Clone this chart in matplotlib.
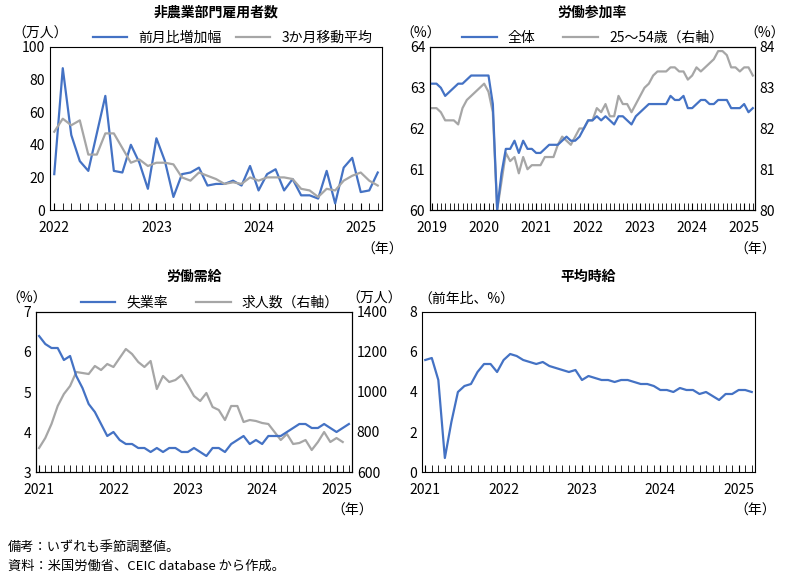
import numpy as np
import matplotlib
matplotlib.use("Agg")
import matplotlib.pyplot as plt

plt.rcParams["font.family"] = "Noto Sans CJK JP"
BLUE, GRAY = "#4472C4", "#A6A6A6"

# panel 1: 2022-01 .. 2025-03
nfp_chg = [22, 87, 46, 30, 24, 47, 70, 24, 23, 40, 29, 13, 44, 30, 8, 22, 23, 26, 15, 16,
           16, 18, 15, 27, 12, 22, 25, 12, 19, 9, 9, 7, 24, 4, 26, 32, 11, 12, 23]
nfp_ma3 = [48, 56, 52, 55, 34, 34, 47, 47, 38, 29, 31, 27, 29, 29, 28, 20, 18, 23, 21, 19,
           16, 17, 16, 20, 18, 20, 20, 20, 19, 13, 12, 8, 13, 12, 18, 21, 23, 18, 15]
# panel 2: 2019-01 .. 2025-03
lfpr_all = [63.1, 63.1, 63.0, 62.8, 62.9, 63.0, 63.1, 63.1, 63.2, 63.3, 63.3, 63.3,
            63.3, 63.3, 62.6, 60.0, 60.9, 61.5, 61.5, 61.7, 61.4, 61.7, 61.5, 61.5,
            61.4, 61.4, 61.5, 61.6, 61.6, 61.6, 61.7, 61.8, 61.7, 61.7, 61.8, 62.0,
            62.2, 62.2, 62.3, 62.2, 62.3, 62.2, 62.1, 62.3, 62.3, 62.2, 62.1, 62.3,
            62.4, 62.5, 62.6, 62.6, 62.6, 62.6, 62.6, 62.8, 62.7, 62.7, 62.8, 62.5,
            62.5, 62.6, 62.7, 62.7, 62.6, 62.6, 62.7, 62.7, 62.7, 62.5, 62.5, 62.5,
            62.6, 62.4, 62.5]
lfpr_prime = [82.5, 82.5, 82.4, 82.2, 82.2, 82.2, 82.1, 82.5, 82.7, 82.8, 82.9, 83.0,
              83.1, 82.9, 82.4, 80.0, 80.7, 81.4, 81.2, 81.3, 80.9, 81.3, 81.0, 81.1,
              81.1, 81.1, 81.3, 81.3, 81.3, 81.6, 81.8, 81.7, 81.6, 81.8, 82.0, 82.0,
              82.2, 82.2, 82.5, 82.4, 82.6, 82.3, 82.3, 82.8, 82.6, 82.6, 82.4, 82.6,
              82.8, 83.0, 83.1, 83.3, 83.4, 83.4, 83.4, 83.5, 83.5, 83.4, 83.4, 83.2,
              83.3, 83.5, 83.4, 83.5, 83.6, 83.7, 83.9, 83.9, 83.8, 83.5, 83.5, 83.4,
              83.5, 83.5, 83.3]
# panel 3: 2021-01 .. 2025-03
unemp = [6.4, 6.2, 6.1, 6.1, 5.8, 5.9, 5.4, 5.1, 4.7, 4.5, 4.2, 3.9,
         4.0, 3.8, 3.7, 3.7, 3.6, 3.6, 3.5, 3.6, 3.5, 3.6, 3.6, 3.5,
         3.5, 3.6, 3.5, 3.4, 3.6, 3.6, 3.5, 3.7, 3.8, 3.9, 3.7, 3.8,
         3.7, 3.9, 3.9, 3.9, 4.0, 4.1, 4.2, 4.2, 4.1, 4.1, 4.2, 4.1,
         4.0, 4.1, 4.2]
openings = [720, 770, 840, 930, 990, 1030, 1100, 1095, 1090, 1130, 1110, 1140,
            1125, 1170, 1215, 1190, 1150, 1125, 1155, 1015, 1080, 1050, 1060, 1085,
            1035, 980, 955, 995, 925, 910, 860, 930, 930, 850, 860, 855,
            845, 840, 800, 760, 790, 740, 745, 760, 710, 750, 800, 750,
            770, 750]
# panel 4: 2021-01 .. 2025-03
wages = [5.6, 5.7, 4.6, 0.7, 2.5, 4.0, 4.3, 4.4, 5.0, 5.4, 5.4, 5.0,
         5.6, 5.9, 5.8, 5.6, 5.5, 5.4, 5.5, 5.3, 5.2, 5.1, 5.0, 5.1,
         4.6, 4.8, 4.7, 4.6, 4.6, 4.5, 4.6, 4.6, 4.5, 4.4, 4.4, 4.3,
         4.1, 4.1, 4.0, 4.2, 4.1, 4.1, 3.9, 4.0, 3.8, 3.6, 3.9, 3.9,
         4.1, 4.1, 4.0]


def style(ax, start, n, ylim, yticks, ylab, title, lab_x=-0.03, lab_ha="center"):
    ax.set_xlim(-0.5, n - 0.5)
    ax.set_ylim(*ylim)
    ax.set_yticks(yticks)
    years = list(range(0, n, 12))
    ax.set_xticks(years)
    ax.set_xticklabels([str(start + i // 12) for i in years])
    ax.set_xticks(range(n), minor=True)
    ax.tick_params(axis="x", which="both", direction="in", length=5, pad=8)
    ax.tick_params(axis="y", length=0, labelsize=10)
    ax.tick_params(axis="x", labelsize=10)
    for s in ax.spines.values():
        s.set_color("black")
    ax.set_title(title, fontsize=10, fontweight="bold", pad=22)
    ax.text(lab_x, 1.04, ylab, transform=ax.transAxes, ha=lab_ha, va="bottom", fontsize=10)
    ax.text(1.0, -0.2, "（年）", transform=ax.transAxes, ha="center", va="top", fontsize=10)


fig = plt.figure(figsize=(7.93, 5.78), dpi=100)

ax1 = fig.add_axes([50 / 793, 1 - 210 / 578, 332 / 793, 163 / 578])
ax1.plot(nfp_chg, color=BLUE, lw=1.6, label="前月比増加幅")
ax1.plot(nfp_ma3, color=GRAY, lw=1.6, label="3か月移動平均")
style(ax1, 2022, 39, (0, 100), range(0, 101, 20), "（万人）", "非農業部門雇用者数")
ax1.legend(loc="lower center", bbox_to_anchor=(0.55, 0.98), ncol=2, frameon=False,
           fontsize=10, handlelength=2.5, columnspacing=1, borderaxespad=0)

ax2 = fig.add_axes([430 / 793, 1 - 210 / 578, 325 / 793, 163 / 578])
ax2b = ax2.twinx()
l1, = ax2.plot(lfpr_all, color=BLUE, lw=1.6, label="全体")
l2, = ax2b.plot(lfpr_prime, color=GRAY, lw=1.6, label="25～54歳（右軸）")
ax2.set_zorder(ax2b.get_zorder() + 1); ax2.patch.set_visible(False)
style(ax2, 2019, 75, (60, 64), range(60, 65), "（%）", "労働参加率")
ax2b.set_ylim(80, 84); ax2b.set_yticks(range(80, 85))
ax2b.tick_params(length=0, labelsize=10)
ax2b.text(1.03, 1.04, "（%）", transform=ax2b.transAxes, ha="center", va="bottom", fontsize=10)
ax2.legend([l1, l2], ["全体", "25～54歳（右軸）"], loc="lower center", bbox_to_anchor=(0.5, 0.98),
           ncol=2, frameon=False, fontsize=10, handlelength=2.5, columnspacing=2, borderaxespad=0)

ax3 = fig.add_axes([36 / 793, 1 - 472 / 578, 316 / 793, 160 / 578])
ax3b = ax3.twinx()
l3, = ax3.plot(unemp, color=BLUE, lw=1.6)
l4, = ax3b.plot(openings, color=GRAY, lw=1.6)
ax3.set_zorder(ax3b.get_zorder() + 1); ax3.patch.set_visible(False)
style(ax3, 2021, 51, (3, 7), range(3, 8), "（%）", "労働需給")
ax3b.set_ylim(600, 1400); ax3b.set_yticks(range(600, 1401, 200))
ax3b.tick_params(length=0, labelsize=10)
ax3b.text(1.07, 1.04, "（万人）", transform=ax3b.transAxes, ha="center", va="bottom", fontsize=10)
ax3.legend([l3, l4], ["失業率", "求人数（右軸）"], loc="lower center", bbox_to_anchor=(0.55, 0.98),
           ncol=2, frameon=False, fontsize=10, handlelength=2.5, columnspacing=2, borderaxespad=0)

ax4 = fig.add_axes([422 / 793, 1 - 472 / 578, 333 / 793, 160 / 578])
ax4.plot(wages, color=BLUE, lw=1.6)
style(ax4, 2021, 51, (0, 8), range(0, 9, 2), "（前年比、%）", "平均時給", lab_x=-0.01, lab_ha="left")

fig.text(8 / 793, 1 - 547 / 578, "備考：いずれも季節調整値。", fontsize=9.5, va="center")
fig.text(8 / 793, 1 - 566 / 578, "資料：米国労働省、CEIC database から作成。", fontsize=9.5, va="center")

fig.savefig("out.png", dpi=100)
